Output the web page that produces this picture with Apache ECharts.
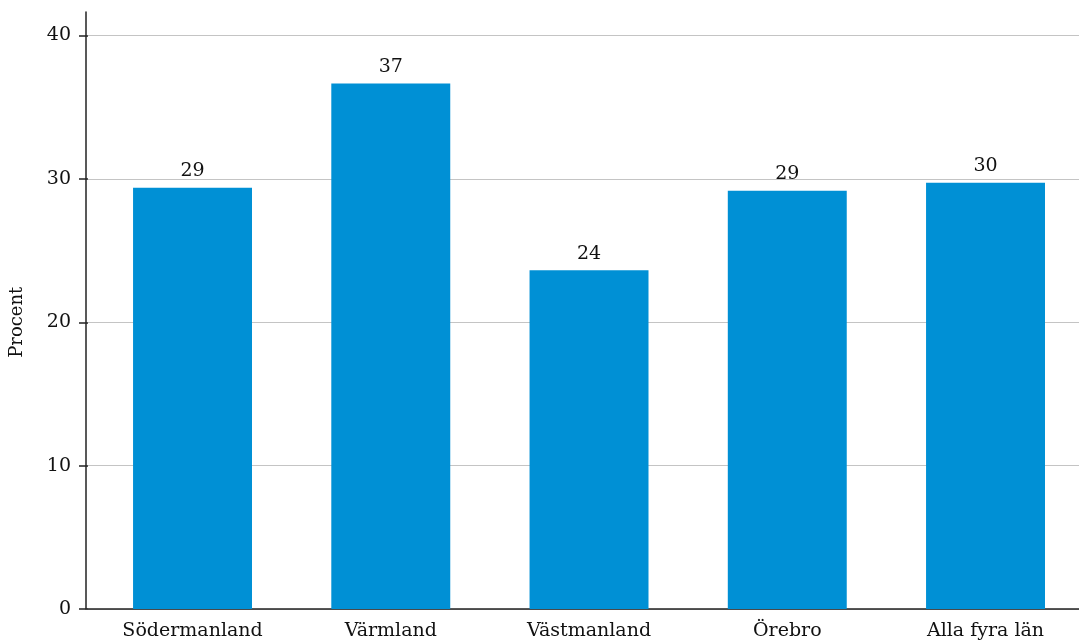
<!DOCTYPE html>
<html>
<head>
<meta charset="utf-8">
<script src="https://cdn.jsdelivr.net/npm/echarts@6/dist/echarts.min.js"></script>
<style>html,body{margin:0;padding:0;background:#fff;overflow:hidden;}#c{width:1090px;height:643px;}</style>
</head>
<body>
<div id="c"></div>
<script>
const categories = ['Södermanland', 'Värmland', 'Västmanland', 'Örebro', 'Alla fyra län'];
const values = [29.35, 36.62, 23.6, 29.15, 29.7];
const labels = ['29', '37', '24', '29', '30'];
const yTicks = [0, 10, 20, 30, 40];

const FONT = 'DejaVu Serif';
const chart = echarts.init(document.getElementById('c'));
chart.setOption({
  animation: false,
  backgroundColor: '#fff',
  grid: [
    { left: 86, right: 11, top: 35.5, bottom: 34 },
    { left: 93.4, right: 5.35, top: 12, bottom: 34 }
  ],
  xAxis: [
    { gridIndex: 0, type: 'value', min: 0, max: 1,
      axisLine: { show: true, onZero: false, lineStyle: { color: '#222', width: 1.5 } },
      axisTick: { show: false }, axisLabel: { show: false }, splitLine: { show: false } },
    { gridIndex: 1, type: 'category', data: categories,
      axisLine: { show: false }, axisTick: { show: false },
      axisLabel: { color: '#111', fontFamily: FONT, fontSize: 19, margin: 13 } }
  ],
  yAxis: [
    { gridIndex: 0, type: 'value', min: 0, max: 40, interval: 10,
      name: 'Procent', nameLocation: 'middle', nameGap: 62,
      nameTextStyle: { color: '#111', fontFamily: FONT, fontSize: 18 },
      axisLine: { show: false },
      axisTick: { show: true, inside: false, length: 9, lineStyle: { color: '#222', width: 1.5 } },
      axisLabel: { color: '#111', fontFamily: FONT, fontSize: 19, margin: 17,
        formatter: v => yTicks.includes(v) ? String(v) : '' },
      splitLine: { show: true, lineStyle: { color: '#c4c4c4', width: 1.2 } } },
    { gridIndex: 1, type: 'value', min: 0, max: 41.6, offset: 7.4,
      axisLine: { show: true, onZero: false, lineStyle: { color: '#222', width: 1.5 } },
      axisTick: { show: false }, axisLabel: { show: false }, splitLine: { show: false } }
  ],
  series: [{
    type: 'bar', xAxisIndex: 1, yAxisIndex: 1,
    data: values, barWidth: '60%',
    itemStyle: { color: '#0090d5' },
    label: { show: true, position: 'top', distance: 7, color: '#111',
      fontFamily: FONT, fontSize: 19,
      formatter: p => labels[p.dataIndex] }
  }]
});
</script>
</body>
</html>
